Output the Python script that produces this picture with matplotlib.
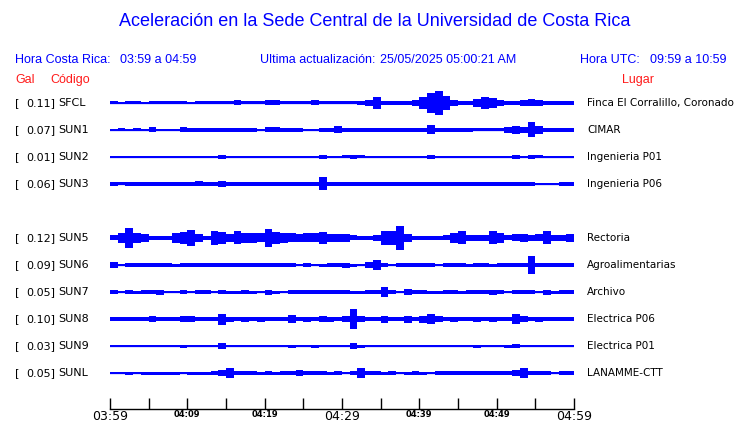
import numpy as np
import matplotlib.pyplot as plt
from matplotlib import transforms

# station data (top to bottom, SUN4 is missing so a blank row sits after SUN3)
codes = ["SFCL", "SUN1", "SUN2", "SUN3", "SUN5", "SUN6", "SUN7", "SUN8", "SUN9", "SUNL"]
peak_gal = ["0.11", "0.07", "0.01", "0.06", "0.12", "0.09", "0.05", "0.10", "0.03", "0.05"]
places = ["Finca El Corralillo, Coronado", "CIMAR", "Ingenieria P01", "Ingenieria P06",
          "Rectoria", "Agroalimentarias", "Archivo", "Electrica P06", "Electrica P01",
          "LANAMME-CTT"]
tick_labels = ["03:59", "04:09", "04:19", "04:29", "04:39", "04:49", "04:59"]

# half-amplitude of each trace per minute (pixels)
env_sfcl = [1.5, 1.2, 1.5, 1.5, 1.2, 1.5, 1.5, 1.5, 1.5, 1.5, 1.2, 1.5, 1.5, 1.5, 1.5, 1.5,
            2.5, 1.5, 1.5, 1.5, 2.5, 2.5, 1.5, 1.5, 1.5, 1.5, 2.5, 1.5, 1.5, 1.5, 1.5, 1.5,
            1.7, 3, 6, 1.7, 1.7, 1.7, 1.7, 3, 6, 10, 12, 7, 3, 2, 2, 4,
            6, 5, 3, 2, 2, 3, 3.5, 3, 2, 2, 2, 2]
env_sun1 = [1.2, 1.5, 1.2, 1.5, 1.2, 2.5, 1.3, 1.3, 1.3, 2.5,
            2, 2, 2, 2, 2, 2, 2, 2, 2, 1.3,
            2.5, 2.5, 1.8, 1.8, 1.8, 1.3, 1.3, 1.8, 1.8, 3.5,
            2, 2, 2, 2, 2, 2, 1.8, 1.8, 2, 2,
            1.8, 4.5, 1.8, 1.8, 1.8, 1.8, 1.8, 1.5, 1.5, 1.5,
            1.5, 3, 4, 3, 7.5, 4, 2, 2, 2, 2]
env_sun2 = [0.6, 0.6, 0.6, 0.6, 0.6, 1, 0.6, 0.6, 0.6, 0.6,
            1, 0.6, 0.6, 0.6, 2, 1.2, 0.6, 1.2, 1, 0.6,
            0.6, 0.6, 0.6, 0.6, 0.6, 0.6, 0.6, 2, 0.6, 1.2,
            1.5, 2, 1.5, 1, 0.6, 1, 0.6, 0.6, 1, 0.6,
            0.6, 2, 0.6, 0.6, 0.6, 0.6, 0.6, 0.6, 0.6, 0.6,
            0.6, 0.6, 2, 1, 2, 1.5, 0.6, 0.6, 0.6, 0.6]
env_sun3 = [1.7, 1.5, 1.8, 1.7, 1.8, 1.7, 2, 1.7, 1.8, 1.7,
            1.7, 2.5, 1.7, 1.7, 3.2, 1.8, 1.8, 1.8, 1.8, 2,
            1.8, 2, 1.8, 1.8, 1.8, 1.8, 1.8, 6.5, 2.2, 2.2,
            1.7, 1.7, 1.7, 1.7, 1.7, 1.7, 2.2, 1.7, 1.7, 1.7,
            1.7, 1.7, 1.7, 1.7, 1.7, 1.7, 1.7, 1.7, 1.7, 1.7,
            2, 1.7, 1.7, 1.7, 1.7, 1.2, 0.5, 0.5, 1.8, 1.8]
env_sun5 = [2.5, 5, 10, 5, 4, 2, 2, 2, 5, 6,
            8, 4, 2.2, 7, 6, 4, 6.5, 5, 5, 4.5,
            9, 6, 5, 4.5, 4, 4.5, 4.5, 6, 4, 4,
            4, 2.5, 2.2, 2.2, 3, 7, 7, 12, 4, 2.2,
            2, 2, 2, 2.5, 5, 6.5, 3, 3, 3, 6.5,
            5, 2.5, 3.5, 4, 3, 3.5, 6.5, 3, 3, 4]
env_sun6 = [3, 0.6, 2, 2, 2.3, 2.3, 2.3, 2, 1.5, 2,
            2, 2, 2, 2.2, 2, 2, 2, 2, 2, 2,
            2, 2, 2, 2, 1.2, 2, 1.3, 1.5, 2, 2,
            2.5, 1.5, 1.2, 3, 5, 2, 0.8, 2, 2, 2,
            2, 2, 1, 2, 2, 2, 1.5, 2, 2, 1.5,
            2, 2, 2, 2, 9, 2, 2, 2, 2, 2]
env_sun7 = [1.7, 0.6, 1.7, 1.5, 1.7, 1.7, 2.5, 0.6, 0.6, 1.7,
            0.6, 1.7, 1.7, 0.6, 2.2, 1.5, 1.5, 2, 1.5, 1.2,
            2.5, 1.5, 0.6, 1.7, 1.7, 2.2, 1.7, 1.7, 1.7, 2,
            1.7, 1.5, 1.5, 1.7, 1.7, 5, 1.7, 1.2, 3, 2,
            1.7, 1.5, 1.5, 2, 1.7, 1.5, 1.7, 1.7, 1.7, 2.5,
            2, 1.2, 1.7, 1.7, 1.7, 1.2, 2.5, 1.5, 2, 2]
env_sun8 = [2, 2, 2, 2, 2, 3, 2, 2, 2, 3,
            3, 2, 2, 2, 5.5, 2.5, 2, 2.5, 2, 2.5,
            2, 2, 2, 4, 2, 2.5, 2, 3, 2.5, 2,
            3, 10, 3, 2, 2, 3.5, 2, 2, 3.5, 2,
            3.5, 5.3, 3, 2, 2.5, 2, 2, 2.5, 2, 2.5,
            2, 2, 4.7, 3, 2, 2.5, 2, 2, 2, 2]
env_sun9 = [0.6, 1, 0.6, 1, 0.6, 0.6, 1, 0.6, 0.6, 1.5,
            0.6, 1.3, 0.6, 0.6, 2.7, 1.3, 1, 0.6, 0.6, 0.6,
            0.6, 1, 0.6, 1.5, 1.3, 0.6, 1.5, 1.3, 0.6, 0.6,
            1.3, 2.7, 1.5, 1.3, 0.6, 1, 0.6, 0.6, 1, 0.6,
            1.3, 1.3, 0.6, 0.6, 1.3, 1.3, 0.6, 1.5, 1.3, 0.6,
            0.6, 1.5, 2.2, 0.6, 1.3, 1.3, 0.6, 0.6, 0.6, 0.6]
env_sunl = [0.6, 0.8, 1.5, 1.2, 1.5, 1.5, 1.5, 1.5, 1.5, 0.6,
            1.5, 1.5, 1.5, 1.7, 2.5, 5, 2, 1.7, 1.7, 1.5,
            1.7, 1.5, 1.7, 2, 2.7, 1.7, 1.7, 1.7, 1.5, 1.7,
            0.6, 2, 4.7, 2, 1.7, 1.5, 1.7, 0.6, 1.5, 1.7,
            1.5, 1.2, 1.7, 2, 1.7, 1.7, 1.7, 1.7, 1.7, 2,
            1.7, 2, 2.5, 4.7, 2, 1.7, 1.7, 1.2, 1.7, 1.7]
envelopes = [env_sfcl, env_sun1, env_sun2, env_sun3, env_sun5,
             env_sun6, env_sun7, env_sun8, env_sun9, env_sunl]

W, H = 740, 423
ROW = 27.0  # pixels between traces
BLUE = "#0000ff"
RED = "#ff1a1a"


def fx(x):
    return x / W


def fy(y):
    return 1 - y / H


fig = plt.figure(figsize=(W / 100, H / 100), dpi=100)

# header
fig.text(fx(375), fy(22), "Aceleración en la Sede Central de la Universidad de Costa Rica",
         ha="center", va="center", color=BLUE, fontsize=13, family="Liberation Sans")
hdr = dict(va="center", color=BLUE, fontsize=9, family="Liberation Sans")
fig.text(fx(15), fy(60), "Hora Costa Rica:", **hdr)
fig.text(fx(120), fy(60), "03:59 a 04:59", **hdr)
fig.text(fx(260), fy(60), "Ultima actualización:", **hdr)
fig.text(fx(380), fy(60), "25/05/2025 05:00:21 AM", **hdr)
fig.text(fx(580), fy(60), "Hora UTC:", **hdr)
fig.text(fx(650), fy(60), "09:59 a 10:59", **hdr)
sub = dict(va="center", color=RED, fontsize=9, family="Liberation Sans")
fig.text(fx(15), fy(80), "Gal", **sub)
fig.text(fx(50), fy(80), "Código", **sub)
fig.text(fx(622), fy(80), "Lugar", **sub)

# trace area
ax = fig.add_axes([fx(110), fy(409), (574 - 110) / W, (409 - 88) / H])
ax.set_xlim(0, 60)
ax.set_ylim((409 - 103) / ROW, (88 - 103) / ROW)

edges = np.arange(61)
lab = transforms.blended_transform_factory(fig.transFigure, ax.transData)
for i, (code, gal, place, env) in enumerate(zip(codes, peak_gal, places, envelopes)):
    row = i + 1 if i >= 4 else i
    a = np.array(env) / ROW
    ax.stairs(row + a, edges, baseline=row - a, fill=True, color=BLUE, lw=0)
    ax.plot([0, 60], [row, row], color=BLUE, lw=0.9)
    ax.text(fx(15), row, "[", transform=lab, va="center", fontsize=8, family="DejaVu Sans")
    ax.text(fx(55), row, f"{gal}]", transform=lab, va="center", ha="right",
            fontsize=8, family="DejaVu Sans")
    ax.text(fx(58), row, code, transform=lab, va="center", fontsize=8, family="DejaVu Sans")
    ax.text(fx(587), row, place, transform=lab, va="center", fontsize=7.5,
            family="DejaVu Sans")

for side in ["top", "left", "right"]:
    ax.spines[side].set_visible(False)
ax.spines["bottom"].set_linewidth(1)
ax.set_yticks([])
ax.set_xticks(np.arange(0, 61, 10))
ax.set_xticks(np.arange(5, 60, 10), minor=True)
ax.set_xticklabels(tick_labels)
ax.tick_params(axis="x", which="both", direction="in", length=8, width=1, pad=1)
for k, lbl in enumerate(ax.get_xticklabels()):
    if k % 3 == 0:
        lbl.set_fontsize(9)
    else:
        lbl.set_fontsize(6)
        lbl.set_fontweight("bold")

fig.savefig("out.png", dpi=100)
